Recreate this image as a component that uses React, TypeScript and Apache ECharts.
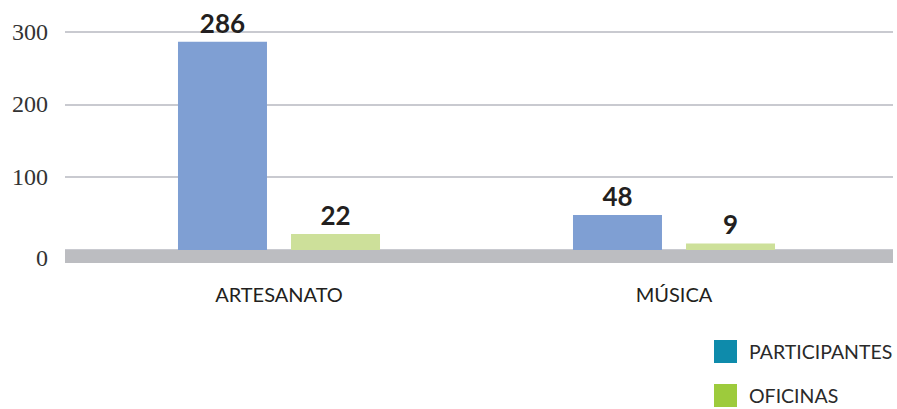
import React, { useEffect, useRef } from "react";
import * as echarts from "echarts";

const categories = ["ARTESANATO", "MÚSICA"];
const participantes = [286, 48];
const oficinas = [22, 9];
const yTicks = [0, 100, 200, 300];

export default function App() {
  const ref = useRef<HTMLDivElement>(null);
  useEffect(() => {
    if (!ref.current) return;
    const chart = echarts.init(ref.current, undefined, { renderer: "svg" });
    const labelStyle = {
      show: true,
      position: "top" as const,
      distance: 6,
      fontFamily: "Lato",
      fontWeight: "bold" as const,
      fontSize: 26,
      color: "#231f20",
    };
    chart.setOption({
      animation: false,
      backgroundColor: "#ffffff",
      grid: [
        { left: 65, right: 4, top: 31.5, bottom: 159 },
        { left: 81.5, right: 25.5, top: 31.5, bottom: 159 },
      ],
      legend: {
        orient: "vertical",
        left: 714,
        top: 340,
        padding: 0,
        itemWidth: 23,
        itemHeight: 23,
        itemGap: 21,
        icon: "rect",
        textStyle: { fontFamily: "Lato", fontSize: 19.5, color: "#2a2a2a", padding: [0, 0, 0, 7] },
        data: [
          { name: "PARTICIPANTES", itemStyle: { color: "#0e8bab" } },
          { name: "OFICINAS", itemStyle: { color: "#9dcb3c" } },
        ],
      },
      xAxis: [
        {
          gridIndex: 0,
          type: "category",
          data: categories,
          offset: 6.5,
          axisLine: { show: true, onZero: false, lineStyle: { color: "#bcbdc1", width: 13, cap: "butt" } },
          axisTick: { show: false },
          axisLabel: { show: false },
          splitLine: { show: false },
        },
        {
          gridIndex: 1,
          type: "category",
          data: categories,
          axisLine: { show: false },
          axisTick: { show: false },
          axisLabel: { margin: 34, fontFamily: "Lato", fontSize: 20, color: "#231f20" },
          splitLine: { show: false },
        },
      ],
      yAxis: [
        {
          gridIndex: 0,
          type: "value",
          min: yTicks[0],
          max: yTicks[yTicks.length - 1],
          interval: 100,
          axisLine: { show: false },
          axisTick: { show: false },
          splitLine: { show: true, lineStyle: { color: "#b7b8c0", width: 1.5 } },
          axisLabel: {
            margin: 17,
            fontFamily: "Liberation Serif",
            fontSize: 24,
            color: "#333333",
            formatter: (v: number) => (v === 0 ? "{z|0}" : String(v)),
            rich: { z: { fontFamily: "Liberation Serif", fontSize: 24, color: "#333333", padding: [16, 0, 0, 0] } },
          },
        },
        {
          gridIndex: 1,
          type: "value",
          min: yTicks[0],
          max: yTicks[yTicks.length - 1],
          show: false,
          splitLine: { show: false },
        },
      ],
      series: [
        {
          name: "PARTICIPANTES",
          type: "bar",
          xAxisIndex: 1,
          yAxisIndex: 1,
          data: participantes,
          barWidth: 89,
          barGap: "27%",
          itemStyle: { color: "#7f9fd3" },
          label: labelStyle,
        },
        {
          name: "OFICINAS",
          type: "bar",
          xAxisIndex: 1,
          yAxisIndex: 1,
          data: oficinas,
          barWidth: 89,
          barGap: "27%",
          itemStyle: { color: "#cde09a" },
          label: labelStyle,
        },
      ],
    });
    return () => chart.dispose();
  }, []);
  return (
    <div
      ref={ref}
      style={{ position: "absolute", left: 0, top: 0, width: 897, height: 409 }}
    />
  );
}
